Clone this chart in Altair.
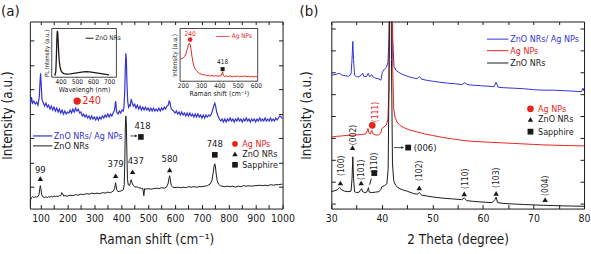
import altair as alt
import pandas as pd

FONT = "'Liberation Sans Narrow', 'DejaVu Sans Condensed', 'Roboto Condensed', 'Liberation Sans', Arial, sans-serif"
BLUE = "#3232d6"
RED = "#e8241c"
BLACK = "#1a1a1a"

# ---------------- panel (a): Raman spectra (Raman shift cm-1, intensity a.u.) ----------------
A_BLUE = [(62, 104), (66, 112), (70, 106), (75, 108), (80, 105), (85, 107), (90, 104), (95, 112),
          (98, 128), (100, 136), (102, 126), (105, 110), (110, 106), (115, 103), (120, 106), (125, 102),
          (130, 104), (135, 100), (140, 103), (145, 99), (150, 102), (155, 98), (160, 101), (165, 97),
          (170, 100), (175, 96), (180, 99), (185, 95), (190, 98), (195, 95), (200, 97), (205, 96),
          (210, 99), (215, 96), (220, 100), (225, 97), (230, 101), (235, 98), (240, 100), (245, 96),
          (250, 97), (255, 93), (260, 95), (265, 92), (270, 94), (275, 91), (280, 93), (285, 90),
          (290, 93), (295, 90), (300, 92), (305, 89), (310, 92), (315, 89), (320, 92), (325, 90),
          (330, 93), (335, 91), (340, 94), (345, 92), (350, 95), (355, 92), (360, 95), (365, 93),
          (370, 96), (375, 99), (379, 108), (383, 97), (388, 95), (393, 98), (398, 96), (403, 99),
          (407, 98), (410, 102), (413, 118), (415, 140), (417, 156), (419, 150), (421, 128), (424, 108),
          (427, 102), (430, 104), (433, 103), (437, 110), (441, 106), (445, 103), (450, 105), (455, 101),
          (460, 104), (465, 100), (470, 103), (475, 99), (480, 102), (485, 99), (490, 102), (495, 99),
          (500, 101), (505, 98), (510, 101), (515, 98), (520, 101), (525, 98), (530, 100), (535, 98),
          (540, 101), (545, 98), (550, 101), (555, 99), (560, 102), (565, 100), (570, 103), (575, 104),
          (578, 108), (581, 107), (585, 101), (590, 99), (595, 98), (600, 96), (605, 98), (610, 95),
          (615, 97), (620, 94), (625, 97), (630, 94), (635, 96), (640, 93), (645, 96), (650, 93),
          (655, 96), (660, 93), (665, 95), (670, 92), (675, 95), (680, 92), (685, 95), (690, 92),
          (695, 94), (700, 91), (705, 94), (710, 91), (715, 94), (720, 92), (725, 94), (730, 93),
          (735, 95), (740, 99), (745, 104), (748, 106), (751, 103), (755, 97), (760, 93), (765, 90),
          (770, 88), (775, 90), (780, 87), (785, 90), (790, 87), (795, 90), (800, 88), (805, 91),
          (810, 88), (815, 90), (820, 87), (825, 90), (830, 88), (835, 91), (840, 88), (845, 90),
          (850, 87), (855, 90), (860, 88), (865, 91), (870, 88), (875, 90), (880, 87), (885, 90),
          (890, 88), (895, 90), (900, 87), (905, 90), (910, 88), (915, 91), (920, 88), (925, 90),
          (930, 88), (935, 91), (940, 88), (945, 90), (950, 88), (955, 91), (960, 88), (965, 90),
          (970, 88), (975, 91), (980, 89), (985, 91), (990, 93), (995, 92), (1000, 90)]

A_BLACK = [(60, 2), (63, 9), (66, 11), (70, 12), (75, 11), (80, 12), (85, 11.5), (90, 12), (94, 14),
           (97, 20), (99, 23), (101, 20), (104, 14), (108, 12), (115, 11), (120, 12), (125, 11),
           (130, 12), (135, 11.5), (140, 12.5), (145, 11.5), (150, 12.5), (155, 12), (160, 12.5),
           (165, 12), (170, 13), (175, 13), (179, 16), (182, 15), (186, 12.5), (190, 13), (200, 12.5),
           (210, 13.5), (220, 13), (230, 14), (240, 13.5), (250, 14.5), (260, 14), (270, 15),
           (280, 14.5), (290, 15.5), (300, 15), (310, 15.5), (320, 15), (330, 16), (340, 15.5),
           (350, 16.5), (360, 16), (370, 17.5), (375, 20), (379, 26), (383, 19), (388, 17), (395, 17.5),
           (402, 18), (408, 19), (411, 24), (413, 45), (415, 80), (417, 93), (419, 85), (421, 55),
           (423, 30), (426, 24), (430, 23), (434, 26), (437, 29), (440, 26), (445, 23), (450, 22),
           (455, 21.5), (460, 22), (465, 20.5), (470, 21), (475, 20), (480, 20.5), (484, 13), (487, 20),
           (492, 19.5), (500, 20), (510, 19.5), (520, 20), (530, 20.5), (540, 20), (550, 21),
           (560, 20.5), (568, 21.5), (574, 25), (578, 31), (580, 33), (582, 30), (586, 23), (592, 21.5),
           (600, 21), (610, 21.5), (620, 21), (630, 21.5), (640, 21), (650, 22), (660, 21.5), (670, 22),
           (680, 21.5), (690, 22), (700, 22), (710, 22.5), (720, 23), (730, 24.5), (737, 28), (742, 36),
           (746, 44), (748, 45), (750, 43), (753, 35), (757, 28), (762, 24.5), (768, 23), (775, 22.5),
           (785, 22), (795, 22.5), (805, 22), (815, 22.5), (825, 21.5), (835, 22.5), (845, 22),
           (855, 23), (865, 22.5), (875, 23), (885, 22.5), (895, 23), (905, 23), (915, 23.5), (925, 23),
           (935, 23.5), (945, 23), (955, 24), (965, 23.5), (975, 24), (985, 24), (995, 24.5), (1000, 24)]

# inset: PL spectrum of ZnO NRs (wavelength nm, normalised intensity)
PL = [(362, 0.04), (366, 0.05), (370, 0.12), (373, 0.35), (376, 0.7), (378, 0.88), (380, 0.95),
      (382, 0.92), (385, 0.72), (388, 0.5), (392, 0.32), (397, 0.2), (403, 0.13), (410, 0.095),
      (420, 0.075), (440, 0.065), (460, 0.07), (480, 0.08), (500, 0.09), (520, 0.1), (540, 0.11),
      (560, 0.115), (580, 0.11), (600, 0.1), (620, 0.09), (640, 0.08), (660, 0.07), (680, 0.06),
      (700, 0.05)]

# inset: Raman spectrum of Ag NPs
AG_RAMAN = [(188, 0.42), (195, 0.43), (202, 0.44), (210, 0.47), (217, 0.52), (224, 0.6), (230, 0.68),
            (235, 0.72), (240, 0.7), (245, 0.6), (250, 0.47), (256, 0.35), (262, 0.28), (270, 0.22),
            (280, 0.18), (290, 0.15), (300, 0.135), (310, 0.12), (320, 0.125), (330, 0.105),
            (340, 0.115), (350, 0.1), (360, 0.11), (370, 0.095), (380, 0.105), (390, 0.095),
            (400, 0.1), (410, 0.105), (415, 0.15), (418, 0.18), (421, 0.12), (428, 0.09), (440, 0.1),
            (450, 0.09), (460, 0.1), (470, 0.085), (480, 0.095), (490, 0.09), (500, 0.1), (510, 0.085),
            (520, 0.095), (530, 0.09), (540, 0.1), (550, 0.085), (560, 0.095), (570, 0.085),
            (580, 0.09), (590, 0.08), (600, 0.09), (607, 0.085)]

# ---------------- panel (b): XRD patterns (2 theta degree, intensity a.u.) ----------------
B_BLUE = [(30, 134), (30.5, 134.5), (31, 135), (31.6, 136), (32.2, 134), (32.8, 133.5), (33.4, 133),
          (33.9, 135), (34.1, 150), (34.25, 168), (34.4, 150), (34.6, 134), (35.0, 132.5), (35.5, 132.5),
          (35.9, 134), (36.2, 136), (36.5, 132.5), (37.0, 133), (37.3, 136), (37.6, 132.5), (38.0, 134.5),
          (38.3, 132), (38.8, 131), (39.3, 130.5), (39.8, 129), (40.1, 137), (40.5, 140), (40.9, 142),
          (41.2, 147), (41.45, 175), (41.65, 300), (41.8, 400), (41.95, 300), (42.15, 170), (42.4, 143),
          (42.8, 139), (43.3, 137), (44.0, 135), (44.8, 133.5), (45.6, 132), (46.5, 131), (47.0, 130.5),
          (47.4, 132.5), (47.9, 130), (48.8, 129), (50.0, 128), (51.5, 127), (53.0, 126), (54.5, 125.5),
          (55.8, 124.5), (56.4, 126.5), (57.0, 124.5), (58.0, 124), (59.5, 123.5), (61.0, 123),
          (62.2, 122.5), (62.6, 127), (63.0, 122), (64.0, 121.5), (66.0, 121), (68.0, 120.5),
          (70.0, 119.5), (72.0, 119), (74.0, 119), (76.0, 118.5), (78.0, 118), (79.5, 117.5),
          (79.8, 121), (80.0, 118)]

B_RED = [(30, 72), (31, 72.5), (32, 73), (33, 73.5), (34, 73.5), (35, 74), (36, 74.5), (36.8, 75),
         (37.1, 78), (37.25, 80.5), (37.45, 76), (37.7, 75), (38.0, 78.5), (38.3, 75), (38.8, 74),
         (39.4, 74), (39.8, 76), (40.0, 80.5), (40.4, 82), (40.9, 84), (41.2, 90), (41.4, 120),
         (41.6, 300), (41.8, 400), (41.95, 300), (42.15, 140), (42.35, 100), (42.6, 92), (43.0, 87),
         (43.6, 83.5), (44.5, 81), (45.5, 79), (47.0, 77), (48.5, 75), (50.0, 73.5), (52.0, 71.5),
         (54.0, 70), (56.0, 68.5), (58.0, 67.5), (60.0, 67), (62.0, 66.5), (64.0, 66), (66.0, 65.5),
         (68.0, 65), (70.0, 64.5), (72.0, 64), (74.0, 63.7), (76.0, 63.4), (78.0, 63.2), (80.0, 63)]

B_BLACK = [(30, 17), (30.7, 18), (31.2, 19), (31.6, 21), (32.0, 19), (32.6, 17.5), (33.3, 17),
           (33.9, 17.5), (34.1, 30), (34.25, 52), (34.4, 30), (34.6, 17), (35.0, 16), (35.5, 16.5),
           (35.85, 19), (36.0, 20), (36.2, 17), (36.6, 16), (37.0, 16.5), (37.2, 19), (37.35, 21),
           (37.5, 16.5), (38.0, 16), (38.7, 16.5), (39.4, 17), (39.8, 19), (40.0, 22), (40.5, 23),
           (41.0, 25), (41.25, 40), (41.45, 150), (41.7, 400), (41.9, 150), (42.1, 45), (42.35, 28),
           (42.7, 23.5), (43.2, 21), (44.0, 19), (45.0, 17.5), (46.3, 15), (47.0, 14.5), (47.4, 16),
           (47.9, 13.5), (49.0, 12.5), (50.3, 11.5), (52.0, 10.5), (54.0, 9.7), (55.8, 9), (56.3, 10.5),
           (56.8, 8), (58.0, 7.3), (60.0, 6.5), (61.8, 6), (62.4, 9), (62.6, 11.5), (62.9, 6), (64.0, 5.2),
           (66.0, 4.6), (68.0, 4.1), (70.0, 3.7), (72.0, 3.3), (74.0, 3), (76.0, 2.7), (78.0, 2.5),
           (80.0, 2.3)]

# ---------------- annotations ----------------
A_PEAK_LABELS = ["99", "379", "437", "580", "748", "418"]
A_PEAK_LABEL_X = [99, 379, 454, 580, 748, 479]
A_PEAK_LABEL_Y = [39, 45, 48, 50, 65, 83]
A_TRI_X = [99, 379, 442, 580, 823]
A_TRI_Y = [30, 33, 37, 39, 55]
A_SQ_X = [473, 748, 823]
A_SQ_Y = [72, 54, 44]

B_HKL = ["(100)", "(002)", "(101)", "(110)", "(102)", "(110)", "(103)", "(004)"]
B_HKL_X = [32.0, 34.2, 35.9, 38.5, 47.4, 56.4, 62.5, 72.3]
B_HKL_Y = [43, 74, 39, 46, 38, 30, 31, 23]
B_TRI_X = [31.8, 34.2, 35.9, 47.4, 56.3, 62.6, 72.3, 69.4]
B_TRI_Y = [25.7, 61.3, 25.7, 20.7, 14.7, 15.3, 9, 89.7]
B_SQ_X = [38.5, 45.2, 69.4]
B_SQ_Y = [35.7, 61.3, 77.3]

LEG_A = ["ZnO NRs/ Ag NPs", "ZnO NRs"]
LEG_B = ["ZnO NRs/ Ag NPs", "Ag NPs", "ZnO NRs"]
SYM_LEG = ["Ag NPs", "ZnO NRs", "Sapphire"]

LEG_FS = 9
ANN_FS = 9.5
TICK_FS = 10.5
TITLE_FS = 13.5


def frame_df(pairs):
    return pd.DataFrame(pairs, columns=["x", "y"])


def tk(n):
    return {"expr": str(-n)}


AXS = dict(grid=False, domain=False, tickColor=BLACK, labelColor=BLACK, titleColor=BLACK,
           titleFontWeight="normal", labelFont=FONT, titleFont=FONT)


def line(pairs, color, X, Y, width=1.0):
    return alt.Chart(frame_df(pairs)).mark_line(color=color, strokeWidth=width, clip=True).encode(x=X, y=Y)


def pts(xs, ys, shape, color, size, X, Y):
    return alt.Chart(pd.DataFrame({"x": xs, "y": ys})).mark_point(
        shape=shape, filled=True, color=color, size=size, opacity=1, strokeWidth=0).encode(x=X, y=Y)


def txt(labels, xs, ys, color, size, X, Y, align="center", angle=0):
    return alt.Chart(pd.DataFrame({"x": xs, "y": ys, "t": labels})).mark_text(
        color=color, fontSize=size, align=align, baseline="middle", angle=angle, font=FONT).encode(
        x=X, y=Y, text="t:N")


def seg(x1, x2, y1, y2, color, X, Y, width=1.0):
    return alt.Chart(pd.DataFrame({"x": x1, "x2": x2, "y": y1, "y2": y2})).mark_rule(
        color=color, strokeWidth=width).encode(x=X, x2="x2:Q", y=Y, y2="y2:Q")


def box(dx, dy, X, Y):
    d = pd.DataFrame({"x": [dx[0]], "x2": [dx[1]], "y": [dy[0]], "y2": [dy[1]]})
    return alt.Chart(d).mark_rect(fill="white", stroke=BLACK, strokeWidth=0.8).encode(
        x=X, x2="x2:Q", y=Y, y2="y2:Q")


def frame_layer(domx, domy, xvals, yvals):
    return alt.Chart(pd.DataFrame({"x": [domx[0]], "y": [domy[0]]})).mark_point(opacity=0).encode(
        x=alt.X("x:Q", scale=alt.Scale(domain=domx, nice=False, zero=False),
                axis=alt.Axis(orient="top", labels=False, title=None, values=xvals, tickSize=tk(3), **AXS)),
        y=alt.Y("y:Q", scale=alt.Scale(domain=domy, nice=False, zero=False),
                axis=alt.Axis(orient="right", labels=False, title=None, values=yvals, tickSize=tk(4), **AXS)))


# ================= panel (a) =================
A_XDOM = [60, 1000]
A_YDOM = [0, 188]
A_XT = list(range(100, 1001, 50))
A_YT = [22, 46.5, 71, 95.5, 120, 144.5, 169]

XA = alt.X("x:Q", scale=alt.Scale(domain=A_XDOM, nice=False, zero=False),
           axis=alt.Axis(orient="bottom", values=A_XT, title="Raman shift (cm⁻¹)", tickSize=tk(4),
                         format="d", labelExpr="datum.value % 100 == 0 ? datum.label : ''",
                         labelPadding=9, labelFontSize=TICK_FS, titleFontSize=TITLE_FS, titlePadding=9,
                         labelFlush=False, labelOverlap=False, **AXS))
YA = alt.Y("y:Q", scale=alt.Scale(domain=A_YDOM, nice=False, zero=False),
           axis=alt.Axis(orient="left", values=A_YT, labels=False, title="Intensity (a.u.)", tickSize=tk(4),
                         titleFontSize=TITLE_FS, titlePadding=15, **AXS))

main_a = alt.layer(
    line(A_BLUE, BLUE, XA, YA, 1.2),
    line(A_BLACK, BLACK, XA, YA, 1.0),
    seg([72], [144], [73], [73], BLUE, XA, YA, 1.2),
    seg([72], [144], [63], [63], BLACK, XA, YA, 1.0),
    txt([LEG_A[0]], [149], [73], BLUE, LEG_FS, XA, YA, align="left"),
    txt([LEG_A[1]], [149], [63], BLACK, LEG_FS, XA, YA, align="left"),
    txt(A_PEAK_LABELS, A_PEAK_LABEL_X, A_PEAK_LABEL_Y, BLACK, ANN_FS, XA, YA),
    pts(A_TRI_X, A_TRI_Y, "triangle-up", BLACK, 30, XA, YA),
    pts(A_SQ_X, A_SQ_Y, "square", BLACK, 32, XA, YA),
    pts([823], [65], "circle", RED, 32, XA, YA),
    pts([236], [108], "circle", RED, 55, XA, YA),
    txt(["240"], [255], [108], RED, 11, XA, YA, align="left"),
    seg([434], [455], [73], [73], BLACK, XA, YA, 0.8),
    pts([456], [73], "triangle-right", BLACK, 8, XA, YA),
    txt([SYM_LEG[0]], [850], [65], RED, LEG_FS, XA, YA, align="left"),
    txt(SYM_LEG[1:], [850, 850], [55, 44], BLACK, LEG_FS, XA, YA, align="left"),
)

# inset: PL
PLX = alt.X("x:Q", scale=alt.Scale(domain=[345, 745], range=[22, 87], nice=False, zero=False),
            axis=alt.Axis(orient="bottom", offset=-132, values=[400, 500, 600, 700], title="Wavelengh (nm)",
                          labelFontSize=6.5, titleFontSize=7, tickSize=tk(2), labelPadding=3, titlePadding=1,
                          labelFlush=False, **AXS))
PLY = alt.Y("y:Q", scale=alt.Scale(domain=[0, 1], range=[56, 7], nice=False, zero=False),
            axis=alt.Axis(orient="left", offset=-22, values=[0.2, 0.4, 0.6, 0.8], labels=False,
                          title="PL Intensity (a.u.)", titleFontSize=6, titlePadding=2, tickSize=tk(2), **AXS))
inset_pl = alt.layer(
    box([345, 745], [0, 1], PLX, PLY),
    line(PL, BLACK, PLX, PLY, 1.3),
    seg([554], [603], [0.8], [0.8], BLACK, PLX, PLY, 1.0),
    txt(["ZnO NRs"], [614], [0.8], BLACK, 6.5, PLX, PLY, align="left"),
)

# inset: Ag NPs Raman
AGX = alt.X("x:Q", scale=alt.Scale(domain=[185, 610], range=[151, 229], nice=False, zero=False),
            axis=alt.Axis(orient="bottom", offset=-128, values=[200, 300, 400, 500, 600],
                          title="Raman shift (cm⁻¹)", labelFontSize=6.5, titleFontSize=7, tickSize=tk(2),
                          labelPadding=3, titlePadding=1, labelFlush=False, **AXS))
AGY = alt.Y("y:Q", scale=alt.Scale(domain=[0, 1], range=[60, 7], nice=False, zero=False),
            axis=alt.Axis(orient="left", offset=-151, values=[0.2, 0.4, 0.6, 0.8], labels=False,
                          title="Intensity (a.u.)", titleFontSize=6.5, titlePadding=2, tickSize=tk(2), **AXS))
inset_ag = alt.layer(
    box([185, 610], [0, 1], AGX, AGY),
    line(AG_RAMAN, RED, AGX, AGY, 1.0),
    pts([240], [0.79], "circle", RED, 22, AGX, AGY),
    txt(["240"], [240], [0.9], RED, 6.5, AGX, AGY),
    pts([418], [0.23], "square", BLACK, 16, AGX, AGY),
    txt(["418"], [418], [0.36], BLACK, 6.5, AGX, AGY),
    seg([381], [457], [0.85], [0.85], RED, AGX, AGY, 0.8),
    txt(["Ag NPs"], [468], [0.85], RED, 6.5, AGX, AGY, align="left"),
)

panel_a = alt.layer(
    main_a,
    frame_layer(A_XDOM, A_YDOM, A_XT, A_YT),
    inset_pl,
    inset_ag,
).resolve_scale(x="independent", y="independent").properties(
    width=254, height=188,
    title=alt.TitleParams("(a)", anchor="start", frame="group", dx=-29, fontSize=15,
                          fontWeight="normal", font=FONT, offset=2, color=BLACK))

# ================= panel (b) =================
B_XDOM = [30, 80]
B_YDOM = [0, 188]
B_XT = list(range(30, 81, 5))
B_YT = [5, 27, 49, 71, 93, 115, 137, 159, 181]

XB = alt.X("x:Q", scale=alt.Scale(domain=B_XDOM, nice=False, zero=False),
           axis=alt.Axis(orient="bottom", values=B_XT, title="2 Theta (degree)", tickSize=tk(4),
                         format="d", labelExpr="datum.value % 10 == 0 ? datum.label : ''",
                         labelPadding=9, labelFontSize=TICK_FS, titleFontSize=TITLE_FS, titlePadding=9,
                         labelFlush=False, labelOverlap=False, **AXS))
YB = alt.Y("y:Q", scale=alt.Scale(domain=B_YDOM, nice=False, zero=False),
           axis=alt.Axis(orient="left", values=B_YT, labels=False, title="Intensity (a.u.)", tickSize=tk(4),
                         titleFontSize=TITLE_FS, titlePadding=17, **AXS))

main_b = alt.layer(
    line(B_BLUE, BLUE, XB, YB, 1.0),
    line(B_RED, RED, XB, YB, 1.0),
    line(B_BLACK, BLACK, XB, YB, 1.0),
    seg([60.8], [65.0], [170.3], [170.3], BLUE, XB, YB, 1.0),
    seg([60.8], [65.0], [158.7], [158.7], RED, XB, YB, 1.0),
    seg([60.8], [65.0], [146.3], [146.3], BLACK, XB, YB, 1.0),
    txt([LEG_B[0]], [65.4], [170.3], BLUE, LEG_FS, XB, YB, align="left"),
    txt([LEG_B[1]], [65.4], [158.7], RED, LEG_FS, XB, YB, align="left"),
    txt([LEG_B[2]], [65.4], [146.3], BLACK, LEG_FS, XB, YB, align="left"),
    txt(B_HKL, B_HKL_X, B_HKL_Y, BLACK, 8.5, XB, YB, angle=270),
    txt(["(111)"], [38.7], [97], RED, 8.5, XB, YB, angle=270),
    pts(B_TRI_X, B_TRI_Y, "triangle-up", BLACK, 30, XB, YB),
    pts(B_SQ_X, B_SQ_Y, "square", BLACK, 34, XB, YB),
    pts([38.1, 69.4], [83.7, 100.3], "circle", RED, 45, XB, YB),
    seg([42.4], [44.0], [61.3], [61.3], BLACK, XB, YB, 0.8),
    pts([44.1], [61.3], "triangle-right", BLACK, 8, XB, YB),
    seg([37.6], [37.9], [24], [30], BLACK, XB, YB, 1.0),
    txt(["(006)"], [46.3], [61.3], BLACK, ANN_FS, XB, YB, align="left"),
    txt([SYM_LEG[0]], [70.9], [100.3], RED, LEG_FS, XB, YB, align="left"),
    txt(SYM_LEG[1:], [70.9, 70.9], [89.7, 77.3], BLACK, LEG_FS, XB, YB, align="left"),
)

panel_b = alt.layer(
    main_b,
    frame_layer(B_XDOM, B_YDOM, B_XT, B_YT),
).resolve_scale(x="independent", y="independent").properties(
    width=254, height=188,
    title=alt.TitleParams("(b)", anchor="start", frame="group", dx=-32, fontSize=15,
                          fontWeight="normal", font=FONT, offset=2, color=BLACK))

chart = alt.hconcat(panel_a, panel_b, spacing=49, bounds="flush").properties(
    padding={"left": 0, "right": 0, "top": 3, "bottom": 0}
).configure(font=FONT).configure_view(stroke=BLACK, strokeWidth=1)

chart.save("out.html", embed_options={"renderer": "svg", "actions": False})
